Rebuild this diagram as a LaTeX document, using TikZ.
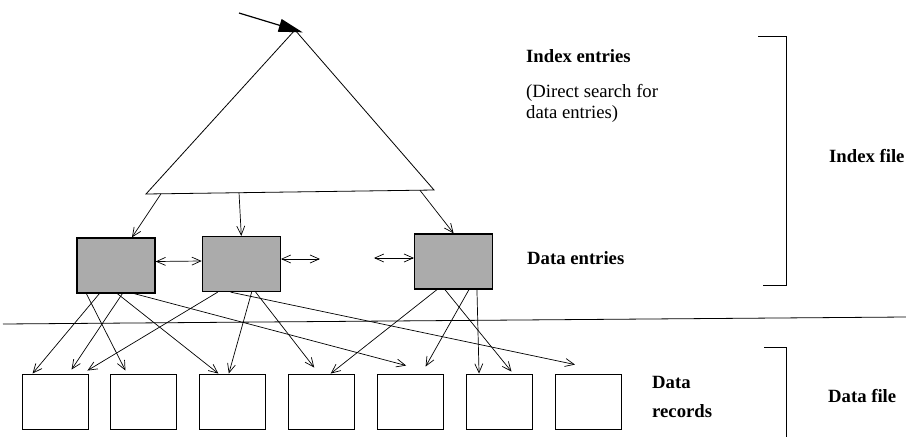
\documentclass[tikz,border=0pt]{standalone}
\usepackage{fontspec}
\setmainfont{Liberation Serif}
\usetikzlibrary{positioning, calc, arrows.meta}

\begin{document}
\begin{tikzpicture}[
		x=1pt, y=-1pt,
		font=\fontsize{18.7}{21}\selectfont,
		node distance=22pt,
		entry/.style={rectangle, draw=black, line width=1.3pt, fill=black!33, minimum width=78pt, minimum height=55pt, inner sep=0pt},
		record/.style={rectangle, draw=black, line width=0.9pt, minimum width=66pt, minimum height=55pt, inner sep=0pt},
		txt/.style={anchor=base west, inner sep=0pt, align=left},
		txtb/.style={txt, font=\fontsize{18.7}{21}\selectfont\bfseries},
		arrow/.style={line width=0.7pt, -{Straight Barb[length=9pt,width=8pt]}},
		dblarrow/.style={line width=0.7pt, {Straight Barb[length=9pt,width=8pt]}-{Straight Barb[length=9pt,width=8pt]}},
		bracket/.style={line width=0.8pt}
		]
		
		\useasboundingbox (0,0) rectangle (906,437);
		
		% index tree
		\coordinate (apex) at (295,30);
		\coordinate (bl) at (146,194);
		\coordinate (br) at (434,190);
		\coordinate (start) at (239,13);
		\draw[line width=0.8pt] (apex) -- (bl) -- (br) -- cycle;
		\draw[line width=1.2pt, -{Triangle[length=24pt,width=13pt]}, shorten >=-8pt] (start) -- (apex);
		
		% data entries
		\node[entry] (d1) at (116,265.5) {};
		\node[entry, right=46pt of d1, yshift=1.5pt] (d2) {};
		\node[entry, right=133pt of d2, yshift=2.5pt] (d3) {};
		
		% data records
		\node[record] (r1) at (55,401.5) {};
		\node[record, right=of r1] (r2) {};
		\node[record, right=of r2] (r3) {};
		\node[record, right=of r3] (r4) {};
		\node[record, right=of r4] (r5) {};
		\node[record, right=of r5] (r6) {};
		\node[record, right=of r6] (r7) {};
		
		\draw[arrow] ($(bl)!0.052!(br)$) -- ($(d1.north)+(16,0)$);
		\draw[arrow] ($(bl)!0.323!(br)$) -- (d2.north);
		\draw[arrow] ($(bl)!0.951!(br)$) -- (d3.north);
		
		\coordinate (gapR) at ($(d2.east)+(39,-5)$);
		\coordinate (gapL) at ($(d3.west)+(-40,-3.5)$);
		\draw[dblarrow] ($(d1.east)+(0,-4)$) -- ($(d2.west)+(0,-3)$);
		\draw[dblarrow] ($(d2.east)+(0,-5)$) -- (gapR);
		\draw[dblarrow] (gapL) -- ($(d3.west)+(0,-3.5)$);
		
		\draw[arrow] ($(d1.south west)+(10,0)$) -- ($(r2.north west)+(15,-3)$);
		\draw[arrow] ($(d1.south west)+(23,0)$) -- ($(r1.north west)+(11,0)$);
		\draw[arrow] ($(d1.south west)+(46,0)$) -- ($(r1.north west)+(50,-4)$);
		\draw[arrow] ($(d1.south west)+(41,0)$) -- ($(r3.north west)+(19,0)$);
		\draw[arrow] ($(d1.south west)+(58,0)$) -- ($(r5.north west)+(29,-8)$);
		
		\draw[arrow] ($(d2.south west)+(16,0)$) -- ($(r1.north east)+(-1,-3)$);
		\draw[arrow] ($(d2.south west)+(29,0)$) -- ($(r7.north west)+(20,-9)$);
		\draw[arrow] ($(d2.south west)+(50,0)$) -- ($(r3.north)+(-4,0)$);
		\draw[arrow] ($(d2.south west)+(54,0)$) -- ($(r4.north west)+(26,-6)$);
		
		\draw[arrow] ($(d3.south west)+(23,0)$) -- ($(r4.north)+(9,0)$);
		\draw[arrow] ($(d3.south west)+(55,0)$) -- ($(r5.north)+(15,-7)$);
		\draw[arrow] ($(d3.south west)+(31,0)$) -- ($(r6.north)+(12,-2)$);
		\draw[arrow] ($(d3.south west)+(63,0)$) -- ($(r6.north west)+(13,0)$);
		
		% file split
		\draw[line width=0.8pt] (3,324) -- (906,317);
		
		\node[txtb] (ie) at (526,62) {Index entries};
		\node[txt] (ds) at (526,118) {(Direct search for\\data entries)};
		\node[txtb] (de) at (527,264) {Data entries};
		\node[txtb] (dr) at (652,417) {Data\\[8pt]records};
		\node[txtb] (ifl) at (829,162) {Index file};
		\node[txtb] (dfl) at (828,402) {Data file};
		
		\draw[bracket] (758,36) -- (786,36) -- (786,285) -- (763,285);
		\draw[bracket] (764,347) -- (786,347) -- (786,437);
		
	\end{tikzpicture}
\end{document}
